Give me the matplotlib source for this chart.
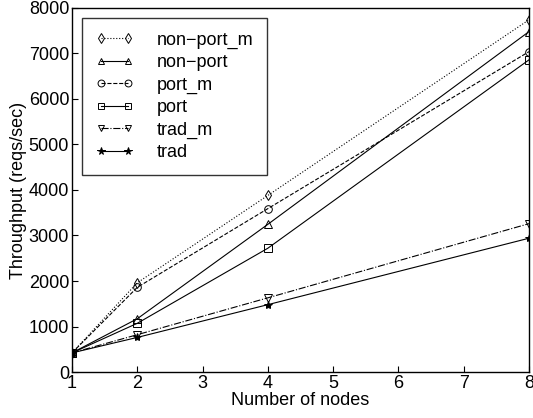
import matplotlib
matplotlib.use("Agg")
import matplotlib.pyplot as plt

plt.rcParams['font.family'] = ['Liberation Sans', 'DejaVu Sans']

nodes = [1, 2, 4, 8]
non_port_m = [420, 1960, 3880, 7740]
non_port = [420, 1170, 3245, 7480]
port_m = [420, 1860, 3590, 7040]
port = [420, 1070, 2720, 6860]
trad_m = [420, 820, 1630, 3260]
trad = [420, 760, 1480, 2940]

labels = ['non\u2212port_m', 'non\u2212port', 'port_m', 'port', 'trad_m', 'trad']
series = [non_port_m, non_port, port_m, port, trad_m, trad]
markers = ['d', '^', 'o', 's', 'v', '*']
styles = [':', '-', '--', '-', '-.', '-']

fig = plt.figure(figsize=(5.33, 4.18), dpi=100)
ax = fig.add_axes([0.135, 0.11, 0.8575, 0.871])

for vals, lab, m, ls in zip(series, labels, markers, styles):
    ax.plot(nodes, vals, linestyle=ls, color='black', linewidth=0.8,
            marker=m, markersize=5.5 if m != '*' else 6,
            markerfacecolor='none' if m != '*' else 'black',
            markeredgecolor='black', markeredgewidth=0.7, label=lab)

ax.set_xlim(1, 8)
ax.set_ylim(0, 8000)
ax.set_xticks(range(1, 9))
ax.set_yticks(range(0, 8001, 1000))
ax.tick_params(direction='in', labelsize=13, length=4, width=0.8, pad=2)
for s in ax.spines.values():
    s.set_linewidth(1.0)
ax.set_xlabel('Number of nodes', fontsize=13, labelpad=0)
ax.set_ylabel('Throughput (reqs/sec)', fontsize=13, labelpad=1)

leg = ax.legend(loc='upper left', numpoints=2, fontsize=13, frameon=True,
                fancybox=False, edgecolor='black', handlelength=2.1,
                borderaxespad=0.55, labelspacing=0.3, handletextpad=1.3,
                borderpad=0.75, markerscale=0.9)
leg.get_frame().set_linewidth(1.0)

fig.savefig('out.png', dpi=100)
